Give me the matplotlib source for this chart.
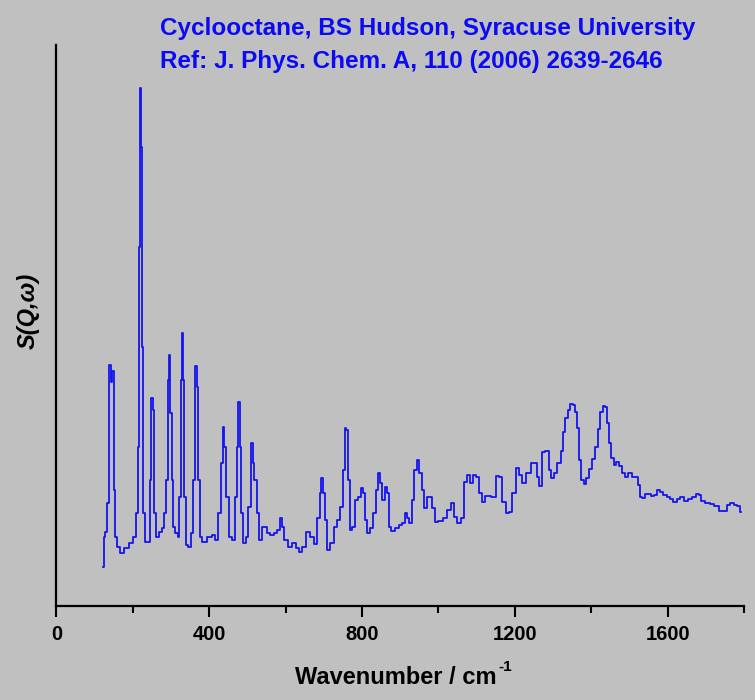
import numpy as np
import matplotlib
matplotlib.use("Agg")
import matplotlib.pyplot as plt
from matplotlib.ticker import MultipleLocator

# INS spectrum of cyclooctane (arbitrary intensity)
wavenumber = [
    123, 124, 125, 130, 136, 141, 145, 148, 152, 157, 163, 171, 185, 198, 206,
    211, 215, 218, 219, 222, 225, 228, 235, 242, 246, 250, 254, 259, 263, 272,
    279, 285, 289, 294, 296, 300, 303, 307, 316, 320, 324, 327, 330, 333, 337,
    342, 349, 355, 361, 366, 370, 373, 379, 385, 403, 412, 420, 429, 434, 438,
    442, 447, 455, 464, 471, 474, 478, 482, 486, 492, 499, 506, 513, 516, 521,
    527, 534, 543, 549, 556, 565, 573, 582, 588, 593, 599, 613, 623, 630, 641,
    647, 658, 669, 678, 687, 691, 696, 700, 704, 713, 722, 731, 739, 748, 752,
    757, 761, 765, 770, 779, 786, 794, 801, 807, 809, 818, 824, 833, 840, 844,
    850, 857, 864, 869, 873, 879, 892, 901, 910, 915, 920, 927, 934, 940, 946,
    953, 960, 966, 975, 981, 987, 994, 1006, 1019, 1028, 1036, 1045, 1054, 1063,
    1071, 1080, 1086, 1093, 1102, 1111, 1118, 1128, 1145, 1156, 1163, 1172, 1181,
    1189, 1198, 1207, 1215, 1224, 1237, 1246, 1255, 1261, 1266, 1275, 1285, 1292,
    1299, 1307, 1316, 1325, 1329, 1336, 1342, 1349, 1355, 1361, 1367, 1370, 1377,
    1383, 1390, 1397, 1406, 1415, 1421, 1427, 1434, 1439, 1444, 1449, 1456, 1462,
    1470, 1478, 1485, 1493, 1502, 1512, 1519, 1524, 1530, 1537, 1543, 1552, 1561,
    1569, 1575, 1584, 1593, 1602, 1610, 1619, 1628, 1639, 1648, 1659, 1668, 1679,
    1685, 1692, 1705, 1718, 1727, 1740, 1753, 1759, 1770, 1779, 1785, 1792,
]
intensity = [
    37, 67, 67, 72, 101, 239, 222, 233, 114, 67, 57, 51, 56, 61, 67,
    91, 157, 357, 516, 457, 257, 91, 62, 62, 124, 206, 194, 91, 67, 72,
    76, 91, 124, 224, 249, 191, 124, 77, 71, 67, 107, 224, 271, 224, 107,
    59, 57, 71, 124, 238, 217, 124, 67, 62, 67, 69, 64, 91, 141, 177,
    157, 107, 67, 64, 107, 157, 202, 157, 91, 61, 67, 97, 161, 141, 124,
    91, 64, 77, 77, 71, 69, 71, 74, 86, 77, 64, 57, 61, 56, 52,
    57, 72, 67, 60, 86, 111, 126, 111, 84, 54, 61, 77, 84, 97, 134,
    176, 174, 124, 74, 77, 104, 107, 116, 111, 84, 71, 76, 91, 114, 131,
    121, 104, 117, 111, 77, 73, 76, 79, 81, 91, 86, 81, 104, 134, 144,
    131, 114, 96, 107, 107, 96, 82, 83, 86, 94, 101, 87, 81, 86,
    122, 129, 121, 129, 127, 111, 102, 108, 107, 128, 127, 102, 91,
    92, 111, 136, 129, 121, 131, 141, 141, 127, 118, 152, 153, 134,
    126, 131, 141, 153, 172, 186, 194, 200, 199, 192, 176, 144, 124,
    120, 126, 135, 145, 157, 175, 192, 198, 197, 181, 161, 146, 139,
    142, 138, 131, 127, 131, 127, 127, 119, 107, 106, 110, 110, 108,
    109, 114, 112, 109, 107, 105, 102, 105, 107, 103, 105, 107, 110,
    109, 103, 101, 100, 98, 93, 93, 99, 101, 99, 98, 92,
]
x_ticks = [0, 400, 800, 1200, 1600]

title_lines = [
    "Cyclooctane, BS Hudson, Syracuse University",
    "Ref: J. Phys. Chem. A, 110 (2006) 2639-2646",
]

bg = "#c0c0c0"
plt.rcParams["font.family"] = ["Liberation Sans", "DejaVu Sans"]

fig = plt.figure(figsize=(7.55, 7.0), dpi=100, facecolor=bg)
ax = fig.add_axes([0.0746, 0.135, 0.9108, 0.8007])
ax.set_facecolor(bg)

ax.plot(wavenumber, intensity, color="#1414f0", lw=1.3, drawstyle="steps-mid")

ax.set_xlim(0, 1800)
ax.set_ylim(-2, 559)
ax.set_xticks(x_ticks)
ax.xaxis.set_minor_locator(MultipleLocator(200))
ax.set_yticks([])

for side in ["top", "right"]:
    ax.spines[side].set_visible(False)
for side in ["left", "bottom"]:
    ax.spines[side].set_linewidth(1.6)

ax.tick_params(axis="x", which="major", length=8, width=1.5, pad=6,
               labelsize=14.5, direction="out")
ax.tick_params(axis="x", which="minor", length=5, width=1.5, direction="out")
for lab in ax.get_xticklabels():
    lab.set_fontweight("bold")

# x label with a small plain "-1" superscript
fig.text(497 / 755, 1 - 684 / 700, "Wavenumber / cm", fontsize=17,
         fontweight="bold", ha="right", va="baseline")
fig.text(498 / 755, 1 - 671 / 700, "-1", fontsize=11,
         fontweight="bold", ha="left", va="baseline")

ax.set_ylabel("S(Q,ω)", fontsize=17, fontweight="bold", style="italic")
ax.yaxis.set_label_coords(-0.024, 0.525)

fig.text(160 / 755, 1 - 35 / 700, title_lines[0], color="#0a0af5",
         fontsize=17.5, fontweight="bold", va="baseline", ha="left")
fig.text(160 / 755, 1 - 68 / 700, title_lines[1], color="#0a0af5",
         fontsize=17.5, fontweight="bold", va="baseline", ha="left")

fig.savefig("out.png", dpi=100, facecolor=bg)
